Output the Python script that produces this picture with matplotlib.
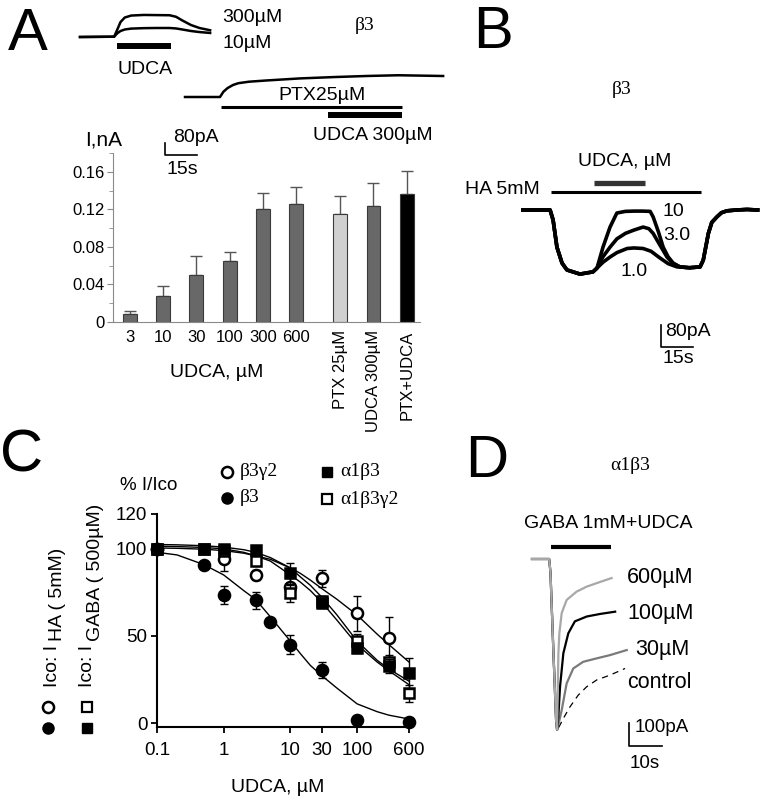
import matplotlib
matplotlib.use('Agg')
import matplotlib.pyplot as plt
import numpy as np
from matplotlib.ticker import MultipleLocator, NullLocator

plt.rcParams['font.family'] = ['Liberation Sans', 'DejaVu Sans']
SERIF = ['Liberation Serif', 'DejaVu Serif']

# ---------------- data ----------------
# Panel A, bar chart (I, nA)
bar_labels = ['3', '10', '30', '100', '300', '600', 'PTX 25µM', 'UDCA 300µM', 'PTX+UDCA']
bar_values = [0.009, 0.028, 0.050, 0.065, 0.120, 0.126, 0.115, 0.124, 0.136]
bar_errors = [0.003, 0.010, 0.020, 0.010, 0.017, 0.018, 0.019, 0.024, 0.025]

# Panel A, example traces (time s, current pA)
a_time = [0, 16, 17.5, 19, 21, 24, 30, 36, 42, 45, 48, 52, 56, 61]
a_udca300 = [0, 2, 50, 100, 130, 143, 147, 146, 145, 135, 110, 80, 60, 45]
a_udca10 = [0, 2, 25, 40, 50, 56, 59, 60, 60, 57, 50, 40, 33, 27]
a_udca_app = (17.3, 42.7)
ptx_time = [0, 16.4, 18, 20, 22.5, 25, 30, 38, 54, 70, 85, 100, 121]
ptx_curr = [0, 0, 35, 60, 80, 92, 102, 110, 124, 133, 140, 145, 140]
ptx_app = (16.9, 101.7)
ptx_udca_app = (67, 101.7)

# Panel B, HA 5mM + UDCA traces (time s, current pA)
b_head_t = [0, 12.7, 14.1, 15.9, 18.3, 20.6, 26.7, 32.8, 34.7]
b_head_i = [0, 0, -36, -135, -193, -218, -233, -225, -211]
b_tail_t = [78, 83, 84.5, 86.9, 88.5, 90.9, 93, 95.6, 100, 105, 110]
b_tail_i = [-210, -207, -182, -85, -45, -25, -10, -3, 0, 2, 0]
b10_t = [37.5, 40.8, 44, 48, 52, 56, 59.6, 61, 63.5, 65.7, 68, 70.4, 73.6]
b10_i = [-135, -62, -11, -5, -4, -4, -5, -25, -80, -135, -170, -193, -207]
b3_t = [37.5, 40.8, 44, 48, 52, 56.3, 59, 61, 64, 67.5, 70.4, 73.6]
b3_i = [-170, -135, -105, -85, -73, -62, -68, -85, -125, -171, -195, -207]
b1_t = [37.5, 40.8, 44, 48.8, 52, 56.3, 60, 64.3, 68, 72.2, 73.6]
b1_i = [-190, -171, -155, -140, -138, -140, -150, -175, -195, -207, -207]
b_ha_app = (13.1, 83.5)
b_udca_app = (33.3, 57.2)

# Panel C, dose-response (% I/Ico)
c_b3_x = [0.1, 0.5, 1, 3, 5, 10, 30, 100, 600]
c_b3_y = [100, 91, 73.5, 70.5, 58, 45, 30.5, 2, 0.5]
c_b3_e = [0, 2, 5, 5, 2, 5.5, 4.5, 1, 1]
c_b3g2_x = [0.1, 1, 3, 10, 30, 100, 300]
c_b3g2_y = [100, 94, 85, 78, 83, 63, 49]
c_b3g2_e = [0, 7, 3, 5, 5, 10, 12]
c_a1b3_x = [0.1, 0.5, 1, 3, 10, 30, 100, 300, 600]
c_a1b3_y = [100, 100, 100, 99.5, 86, 69, 43, 32.5, 28.5]
c_a1b3_e = [0, 1, 1, 2, 6, 3, 3, 4, 9]
c_a1b3g2_x = [0.1, 0.5, 1, 3, 10, 30, 100, 300, 600]
c_a1b3g2_y = [100, 100, 99, 93, 74.5, 70, 47, 35, 17]
c_a1b3g2_e = [0, 1, 1, 3, 5, 3, 4, 4, 5]
# fitted curves
fit_x = [0.1, 0.2, 0.5, 1, 2, 3, 5, 10, 14, 20, 30, 50, 100, 200, 300, 600]
fit_b3 = [98, 96.5, 91, 85, 76, 71, 61, 47, 40, 33, 27, 20, 11, 6.5, 4.5, 2.3]
fit_b3g2 = [100.5, 100.3, 99.8, 99, 97.5, 96, 94, 89, 86, 82, 77, 71, 62, 51, 45, 35]
fit_a1b3 = [102.5, 102.3, 101.8, 101, 99.5, 98, 95, 89, 84, 79, 72, 62, 47, 36, 31, 24]
fit_a1b3g2 = [101.5, 101.3, 100.8, 100, 98, 96, 93, 85, 81, 76, 69, 59, 45, 35, 30, 22]

# Panel D, GABA 1mM + UDCA traces (time s, current pA)
d_head_t = [0, 5.2, 5.6, 6.5, 7.3, 7.6]
d_head_i = [0, 0, -60, -409, -700, -743]
d600_t = [8.0, 8.3, 9.0, 10.5, 13.5, 16.6, 20.6, 24.1]
d600_i = [-409, -322, -235, -178, -142, -120, -100, -83]
d100_t = [8.0, 8.5, 9.5, 11.0, 13.0, 16.6, 20.6, 25.2]
d100_i = [-680, -555, -410, -323, -271, -250, -239, -229]
d30_t = [8.0, 9.0, 10.5, 12.5, 15.5, 19.6, 23.6, 28.7]
d30_i = [-720, -657, -541, -476, -447, -432, -418, -396]
dctl_t = [8.0, 9.5, 11.5, 14.0, 16.6, 19.6, 23.6, 28.2]
dctl_i = [-735, -693, -643, -592, -555, -526, -505, -476]
d_gaba_app = (5.8, 23.9)

# ---------------- figure helpers ----------------
W, H = 766, 802
fig = plt.figure(figsize=(W / 100, H / 100), dpi=100)


def fx(x):
    return x / W


def fy(y):
    return 1 - y / H


def txt(x, y, s, size=14, ha='left', va='center', **kw):
    fig.text(fx(x), fy(y), s, fontsize=size, ha=ha, va=va, **kw)


def trace_axes(x0, y0, sec_px, pa_px):
    ax = fig.add_axes([0, 0, 1, 1], zorder=5)
    ax.set_xlim(-x0 * sec_px, (W - x0) * sec_px)
    ax.set_ylim(-(H - y0) * pa_px, y0 * pa_px)
    ax.axis('off')
    return ax


def to_data(ax, x, y):
    return ax.transData.inverted().transform((x, H - y))


def app_bar(ax, on_off, y_px, lw, color='k'):
    level = to_data(ax, 0, y_px)[1]
    ax.plot(on_off, [level, level], color=color, lw=lw, solid_capstyle='butt')


def scale_bar(ax, x_px, y_px, dt, di):
    t0, i0 = to_data(ax, x_px, y_px)
    ax.plot([t0, t0, t0 + dt], [i0 + di, i0, i0], color='k', lw=1.2)


# panel letters
txt(8, 50, 'A', size=43, va='baseline')
txt(473, 48, 'B', size=43, va='baseline')
txt(0, 471, 'C', size=43, va='baseline')
txt(465, 477, 'D', size=43, va='baseline')

# ---------------- Panel A traces ----------------
axA1 = trace_axes(80, 37, 15 / 32, 80 / 12)
axA1.plot(a_time, a_udca300, color='k', lw=1.8)
axA1.plot(a_time, a_udca10, color='k', lw=1.8)
app_bar(axA1, a_udca_app, 46, 4.3)
txt(222, 18, '300µM')
txt(222, 43, '10µM')
txt(145, 70, 'UDCA', ha='center')
txt(355, 25, 'β3', family=SERIF)

axA2 = trace_axes(185, 97, 15 / 32, 80 / 12)
axA2.plot(ptx_time, ptx_curr, color='k', lw=1.8)
app_bar(axA2, ptx_app, 107, 2.2)
app_bar(axA2, ptx_udca_app, 115, 4.3)
scale_bar(axA2, 165, 155, 15, 80)
txt(322, 95, 'PTX25µM', ha='center')
txt(373, 135, 'UDCA 300µM', ha='center')
txt(173, 137, '80pA')
txt(167, 169, '15s')

# ---------------- Panel A bar chart ----------------
axA = fig.add_axes([fx(113), fy(322), fx(420) - fx(113), fy(153) - fy(322)])
axA.set_facecolor('none')
pos = list(range(6)) + [6.33, 7.33, 8.33]
colors = ['#686868'] * 6 + ['#d0d0d0', '#686868', '#000000']
axA.errorbar(pos, bar_values, yerr=[np.zeros(len(bar_values)), bar_errors], fmt='none',
             ecolor='#555555', elinewidth=1, capsize=4, capthick=1, zorder=1)
axA.bar(pos, bar_values, width=0.42, color=colors, edgecolor='#3a3a3a', linewidth=0.8, zorder=2)
axA.set_xlim(-0.51, 8.73)
axA.set_ylim(0, 0.18)
axA.set_yticks([0, 0.04, 0.08, 0.12, 0.16])
axA.set_yticklabels(['0', '0.04', '0.08', '0.12', '0.16'])
axA.yaxis.set_minor_locator(MultipleLocator(0.02))
axA.set_xticks(pos)
axA.set_xticklabels(bar_labels)
for lab in axA.get_xticklabels()[6:]:
    lab.set_rotation(90)
for side in ['top', 'right']:
    axA.spines[side].set_visible(False)
for side in ['left', 'bottom']:
    axA.spines[side].set_color('#8a8a8a')
axA.tick_params(axis='x', length=0, pad=6, labelsize=12)
axA.tick_params(axis='y', which='major', length=4, color='#8a8a8a', pad=2, labelsize=12)
axA.tick_params(axis='y', which='minor', length=3, color='#8a8a8a')
txt(85, 140, 'I,nA', size=15)
txt(217, 373, 'UDCA, µM', ha='center')

# ---------------- Panel B ----------------
axB = trace_axes(523, 210, 15 / 32, 80 / 22)
for mid_t, mid_i in [(b1_t, b1_i), (b3_t, b3_i), (b10_t, b10_i)]:
    axB.plot(b_head_t + mid_t + b_tail_t, b_head_i + mid_i + b_tail_i, color='k', lw=2.6)
app_bar(axB, b_ha_app, 192, 2.2)
app_bar(axB, b_udca_app, 183, 3.8, color='#333333')
scale_bar(axB, 661, 347, 15, 80)
txt(612, 90, 'β3', family=SERIF)
txt(625, 162, 'UDCA, µM', ha='center')
txt(540, 190, 'HA 5mM', ha='right')
txt(663, 211, '10')
txt(663, 236, '3.0')
txt(620, 271, '1.0')
txt(665, 331, '80pA')
txt(662, 358, '15s')

# ---------------- Panel C ----------------
axC = fig.add_axes([fx(157), fy(726.5), fx(409) - fx(157), fy(514) - fy(726.5)])
axC.set_xscale('log')
axC.set_xlim(0.1, 600)
axC.set_ylim(-2, 120)
for fit in [fit_b3, fit_b3g2, fit_a1b3, fit_a1b3g2]:
    axC.plot(fit_x, fit, color='k', lw=1, clip_on=False)

series = [
    (c_b3g2_x, c_b3g2_y, c_b3g2_e, 'o', 'white', 8),
    (c_a1b3g2_x, c_a1b3g2_y, c_a1b3g2_e, 's', 'white', 7.5),
    (c_b3_x, c_b3_y, c_b3_e, 'o', 'black', 8),
    (c_a1b3_x, c_a1b3_y, c_a1b3_e, 's', 'black', 7.5),
]
for i, (x, y, e, m, fc, ms) in enumerate(series):
    eb = axC.errorbar(x, y, yerr=e, fmt='none', ecolor='k', elinewidth=1, capsize=3,
                      capthick=1, zorder=3 + i)
    for art in list(eb.lines[1]) + list(eb.lines[2]):
        art.set_clip_on(False)
    axC.plot(x, y, ls='none', marker=m, ms=ms, mfc=fc, mec='k', mew=1.8,
             clip_on=False, zorder=3.5 + i)

axC.set_xticks([0.1, 1, 10, 30, 100, 600])
axC.set_xticklabels(['0.1', '1', '10', '30', '100', '600'])
axC.xaxis.set_minor_locator(NullLocator())
axC.set_yticks([0, 50, 100, 120])
for side in ['top', 'right']:
    axC.spines[side].set_visible(False)
for side in ['left', 'bottom']:
    axC.spines[side].set_linewidth(1.5)
axC.tick_params(axis='both', direction='out', length=4, width=1.3, labelsize=13.5)
axC.tick_params(axis='x', pad=7)
axC.tick_params(axis='y', pad=3)

txt(149, 485, '% I/Ico', ha='center', size=13.5)
txt(278, 787, 'UDCA, µM', ha='center')

ov = fig.add_axes([0, 0, 1, 1], zorder=5)
ov.set_xlim(0, W)
ov.set_ylim(H, 0)
ov.axis('off')
# legend
ov.plot([227], [472], 'o', ms=8, mfc='white', mec='k', mew=1.8)
ov.plot([227], [498], 'o', ms=8, mfc='k', mec='k')
ov.plot([327], [472], 's', ms=7, mfc='k', mec='k')
ov.plot([327], [499], 's', ms=7, mfc='white', mec='k', mew=1.6)
txt(240, 472, 'β3γ2', family=SERIF)
txt(240, 498, 'β3', family=SERIF)
txt(340, 472, 'α1β3', family=SERIF)
txt(340, 499, 'α1β3γ2', family=SERIF)
# rotated y labels
txt(52, 687, 'Ico: I', rotation=90, ha='center', va='bottom')
txt(57, 641, 'HA ( 5mM)', rotation=90, ha='center', va='bottom')
txt(88, 687, 'Ico: I', rotation=90, ha='center', va='bottom')
txt(95, 641, 'GABA ( 500µM)', rotation=90, ha='center', va='bottom')
ov.plot([48], [707], 'o', ms=8, mfc='white', mec='k', mew=1.8)
ov.plot([48], [728], 'o', ms=8, mfc='k', mec='k')
ov.plot([87], [707], 's', ms=7, mfc='white', mec='k', mew=1.6)
ov.plot([87], [728], 's', ms=7, mfc='k', mec='k')

# ---------------- Panel D ----------------
axD = trace_axes(532, 559, 10 / 33, 100 / 23)
axD.plot(d_head_t + dctl_t, d_head_i + dctl_i, color='k', lw=0.9, ls=(0, (5, 4)))
axD.plot(d_head_t + d30_t, d_head_i + d30_i, color='#7a7a7a', lw=1.6)
axD.plot(d_head_t + d100_t, d_head_i + d100_i, color='k', lw=1.6)
axD.plot(d_head_t + d600_t, d_head_i + d600_i, color='#a8a8a8', lw=1.6)
app_bar(axD, d_gaba_app, 547, 3)
scale_bar(axD, 629, 746, 10, 100)
txt(610, 465, 'α1β3', family=SERIF)
txt(608, 523, 'GABA 1mM+UDCA', ha='center', size=14)
txt(627, 577, '600µM', size=15.5)
txt(627, 613, '100µM', size=15.5)
txt(635, 650, '30µM', size=15.5)
txt(627, 682, 'control', size=15.5)
txt(635, 728, '100pA', size=13.5)
txt(630, 763, '10s', size=13.5)

fig.savefig('out.png', dpi=100)
